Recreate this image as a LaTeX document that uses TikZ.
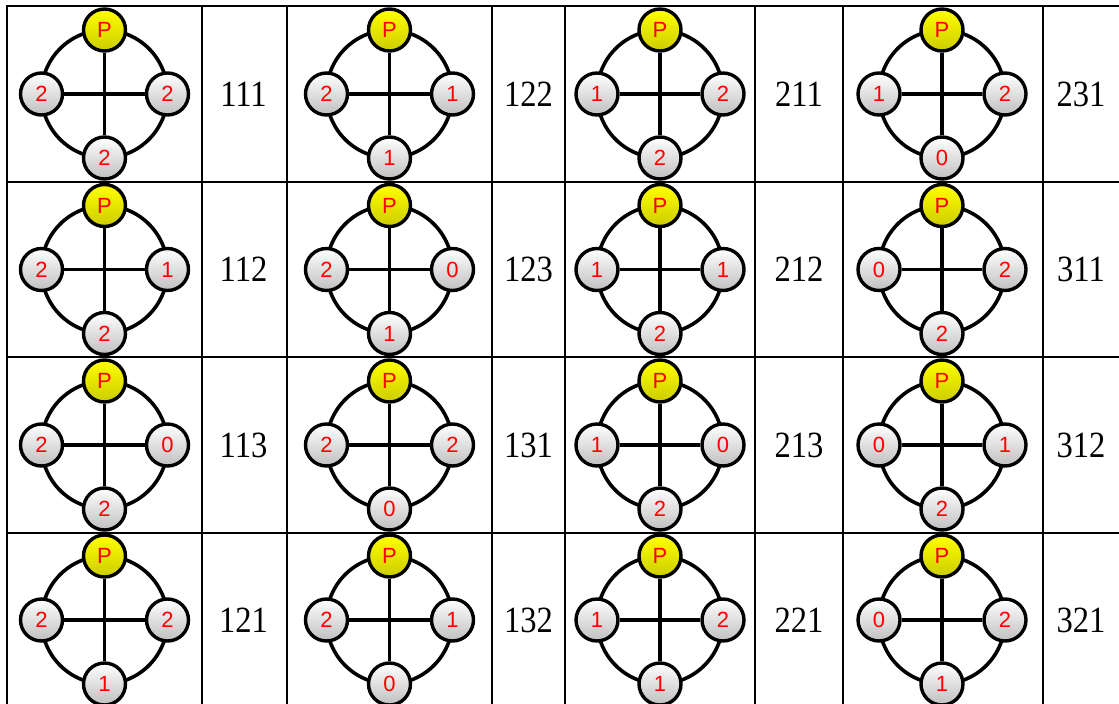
\documentclass[tikz,border=0pt]{standalone}
\usepackage{fontspec}
\newfontfamily\ballfont{Liberation Sans}
\newfontfamily\codefont{Liberation Serif}
\usetikzlibrary{backgrounds}

\tikzset{
  ball/.style={circle,draw=black,line width=3.4pt,minimum size=42pt,inner sep=0pt,
    top color=white,bottom color=gray!50,text=red,font=\ballfont\fontsize{22}{22}\selectfont},
  pball/.style={ball,top color=yellow,bottom color=yellow!80!black},
  link/.style={line width=3.6pt},
  rule/.style={line width=2.2pt},
  code/.style={font=\codefont\fontsize{37}{37}\selectfont,xscale=0.88}
}

% #1 code, #2 x, #3 y, #4 left, #5 right, #6 bottom
\newcommand{\wheel}[6]{
  \node[pball] (w#1p) at (#2,#3-64) {P};
  \node[ball] (w#1l) at (#2-63,#3) {#4};
  \node[ball] (w#1r) at (#2+63,#3) {#5};
  \node[ball] (w#1b) at (#2,#3+64) {#6};
  \draw[link] (w#1p) -- (w#1b);
  \draw[link] (w#1l) -- (w#1r);
  \begin{pgfonlayer}{background}
    \draw[link] (w#1p.center) to[bend right=45] (w#1l.center) to[bend right=45] (w#1b.center)
      to[bend right=45] (w#1r.center) to[bend right=45] (w#1p.center);
  \end{pgfonlayer}
  \node[code] (t#1) at (#2+139,#3) {#1};
}

\begin{document}
\begin{tikzpicture}[x=1pt,y=-1pt]
  \useasboundingbox (0,0) rectangle (1119,704);
  \clip (0,0) rectangle (1119,704);
  % table rules
  \foreach \x in {7,202,287,492,565,755,843,1043}
    \draw[rule] (\x,6) -- (\x,710);
  \foreach \y in {6,182,357,533}
    \draw[rule] (6,\y) -- (1125,\y);
  % row 1
  \wheel{111}{104.5}{94}{2}{2}{2}
  \wheel{122}{389.5}{94}{2}{1}{1}
  \wheel{211}{660}{94}{1}{2}{2}
  \wheel{231}{942}{94}{1}{2}{0}
  % row 2
  \wheel{112}{104.5}{269.5}{2}{1}{2}
  \wheel{123}{389.5}{269.5}{2}{0}{1}
  \wheel{212}{660}{269.5}{1}{1}{2}
  \wheel{311}{942}{269.5}{0}{2}{2}
  % row 3
  \wheel{113}{104.5}{445}{2}{0}{2}
  \wheel{131}{389.5}{445}{2}{2}{0}
  \wheel{213}{660}{445}{1}{0}{2}
  \wheel{312}{942}{445}{0}{1}{2}
  % row 4
  \wheel{121}{104.5}{620}{2}{2}{1}
  \wheel{132}{389.5}{620}{2}{1}{0}
  \wheel{221}{660}{620}{1}{2}{1}
  \wheel{321}{942}{620}{0}{2}{1}
\end{tikzpicture}
\end{document}
